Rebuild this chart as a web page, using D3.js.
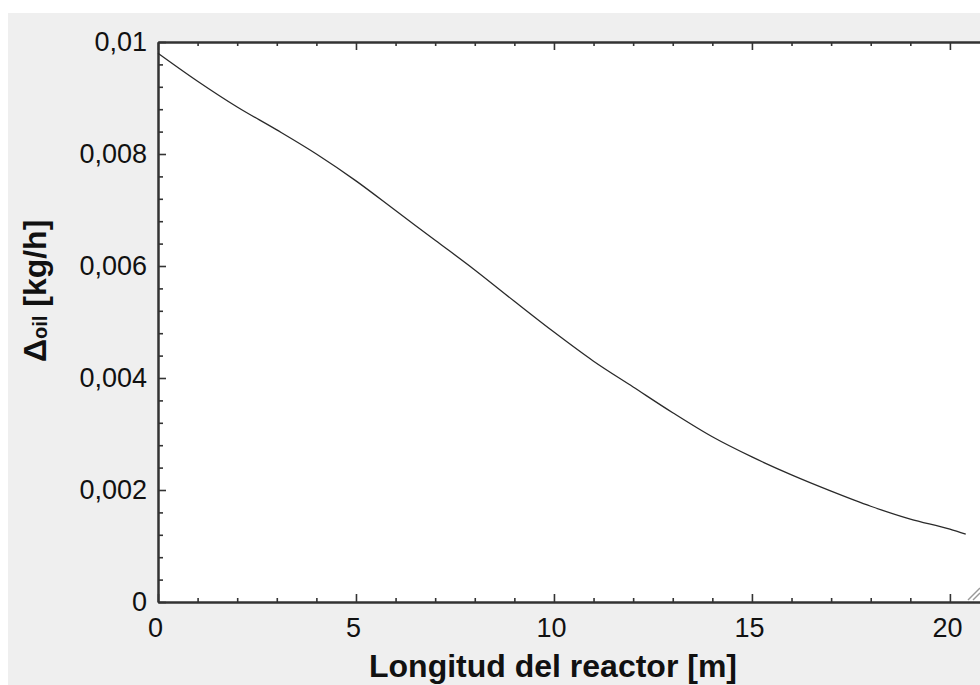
<!DOCTYPE html>
<html>
<head>
<meta charset="utf-8">
<script src="https://cdn.jsdelivr.net/npm/d3@7"></script>
<style>
  html, body { margin: 0; padding: 0; background: #ffffff; }
  svg { display: block; }
  text { font-family: "Liberation Sans", Arial, sans-serif; fill: #111; }
</style>
</head>
<body>
<svg id="chart" width="980" height="685"></svg>
<script>
// ---- data ----
const xLength = [0, 1, 2, 3, 4, 5, 6, 7, 8, 9, 10, 11, 12, 13, 14, 15, 16, 17, 18, 19, 20, 20.4];
const deltaOil = [0.00980, 0.00930, 0.00884, 0.00843, 0.00800, 0.00752, 0.00699, 0.00646, 0.00593,
                  0.00537, 0.00482, 0.00430, 0.00384, 0.00338, 0.00295, 0.00259, 0.00227, 0.00198,
                  0.00171, 0.00148, 0.00130, 0.00121];
const xDomain = [0, 20.76];
const yDomain = [0, 0.01];
const xMajorTicks = [0, 5, 10, 15, 20];
const xMinorTicks = [1, 2, 3, 4, 6, 7, 8, 9, 11, 12, 13, 14, 16, 17, 18, 19];
const xTickLabels = ["0", "5", "10", "15", "20"];
const yMajorTicks = [0, 0.002, 0.004, 0.006, 0.008, 0.01];
const yTickLabels = ["0", "0,002", "0,004", "0,006", "0,008", "0,01"];
const yMinorTicks = [0.0004, 0.0008, 0.0012, 0.0016, 0.0024, 0.0028, 0.0032, 0.0036,
                     0.0044, 0.0048, 0.0052, 0.0056, 0.0064, 0.0068, 0.0072, 0.0076,
                     0.0084, 0.0088, 0.0092, 0.0096];
const xTitle = "Longitud del reactor [m]";

// ---- layout ----
const svg = d3.select("#chart");
const W = 980, H = 685;
const plot = { left: 158, top: 42, bottom: 602, right: 980 };

svg.append("rect").attr("x", 8).attr("y", 13).attr("width", W - 8).attr("height", H - 13)
  .attr("fill", "#efefef");
svg.append("rect").attr("x", plot.left).attr("y", plot.top)
  .attr("width", plot.right - plot.left).attr("height", plot.bottom - plot.top)
  .attr("fill", "#ffffff");

const x = d3.scaleLinear().domain(xDomain).range([plot.left, plot.right]);
const y = d3.scaleLinear().domain(yDomain).range([plot.bottom, plot.top]);

const axisColor = "#333";
function styleAxis(g, fs) {
  g.selectAll(".domain").attr("stroke", axisColor).attr("stroke-width", 2);
  g.selectAll(".tick line").attr("stroke", axisColor).attr("stroke-width", 1.6);
  g.selectAll("text").attr("font-size", fs).attr("fill", "#111")
    .attr("font-family", "'Liberation Sans', Arial, sans-serif");
}

// bottom axis
const gxMinor = svg.append("g").attr("transform", `translate(0,${plot.bottom})`)
  .call(d3.axisBottom(x).tickValues(xMinorTicks).tickSize(-4).tickSizeOuter(0).tickFormat(""));
styleAxis(gxMinor, 27);
const gx = svg.append("g").attr("transform", `translate(0,${plot.bottom})`)
  .call(d3.axisBottom(x).tickValues(xMajorTicks).tickSize(-8).tickSizeOuter(0)
    .tickPadding(16).tickFormat((d, i) => xTickLabels[i]));
styleAxis(gx, 27);
gx.selectAll("text").attr("dx", -3);

// top axis (ticks only)
const gtMinor = svg.append("g").attr("transform", `translate(0,${plot.top})`)
  .call(d3.axisTop(x).tickValues(xMinorTicks).tickSize(-4).tickSizeOuter(0).tickFormat(""));
styleAxis(gtMinor, 27);
const gt = svg.append("g").attr("transform", `translate(0,${plot.top})`)
  .call(d3.axisTop(x).tickValues(xMajorTicks).tickSize(-8).tickSizeOuter(0).tickFormat(""));
styleAxis(gt, 27);

// left axis
const gyMinor = svg.append("g").attr("transform", `translate(${plot.left},0)`)
  .call(d3.axisLeft(y).tickValues(yMinorTicks).tickSize(-5).tickSizeOuter(0).tickFormat(""));
styleAxis(gyMinor, 27);
const gy = svg.append("g").attr("transform", `translate(${plot.left},0)`)
  .call(d3.axisLeft(y).tickValues(yMajorTicks).tickSize(-8).tickSizeOuter(0)
    .tickPadding(11).tickFormat((d, i) => yTickLabels[i]));
styleAxis(gy, 27);

// curve
const pts = xLength.map((v, i) => [v, deltaOil[i]]);
svg.append("path").datum(pts)
  .attr("fill", "none").attr("stroke", "#2a2a2a").attr("stroke-width", 1.3)
  .attr("d", d3.line().x(d => x(d[0])).y(d => y(d[1])).curve(d3.curveMonotoneX));

// x title
svg.append("text").attr("x", 553).attr("y", 677).attr("text-anchor", "middle")
  .attr("font-size", 32).attr("font-weight", "bold").text(xTitle);

// y title
const yt = svg.append("text").attr("transform", "translate(46,362) rotate(-90)")
  .attr("text-anchor", "start").attr("font-size", 32).attr("font-weight", "bold");
yt.append("tspan").text("Δ");
yt.append("tspan").attr("font-size", 20).attr("dy", 1).text("oil");
yt.append("tspan").attr("dy", -1).text(" [kg/h]");

// resize grip decoration (bottom-right)
const grip = svg.append("g").attr("stroke", "#999").attr("stroke-width", 1.5);
grip.append("line").attr("x1", 968).attr("y1", 600).attr("x2", 980).attr("y2", 588);
grip.append("line").attr("x1", 973).attr("y1", 600).attr("x2", 980).attr("y2", 593);
</script>
</body>
</html>
